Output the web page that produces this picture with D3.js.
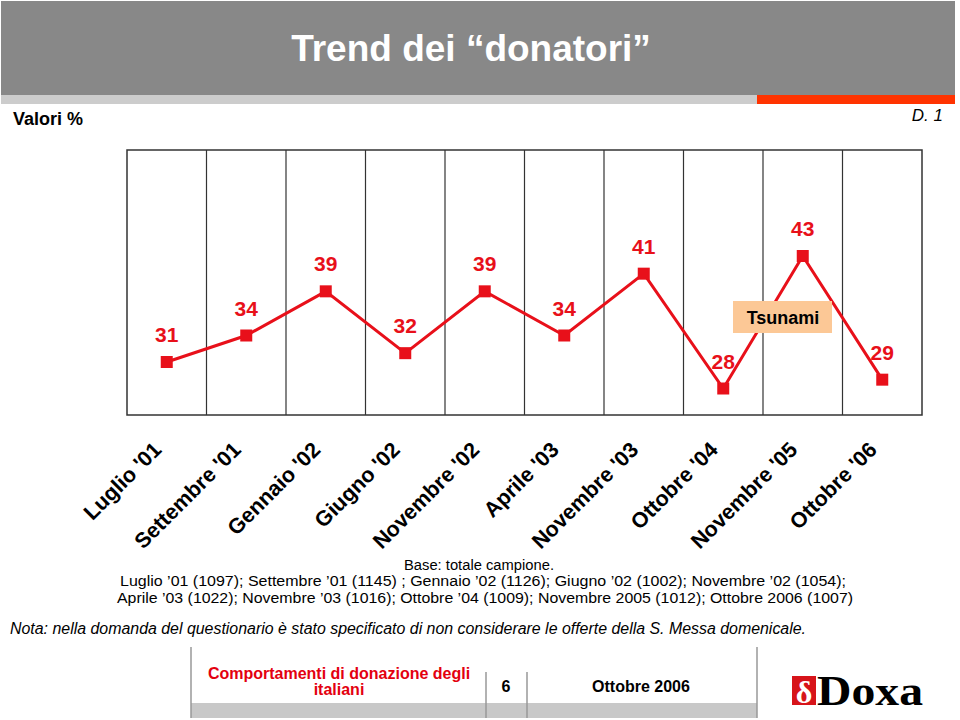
<!DOCTYPE html>
<html><head><meta charset="utf-8">
<script src="https://cdn.jsdelivr.net/npm/d3@7"></script>
<style>html,body{margin:0;padding:0;background:#fff}svg{display:block}</style>
</head><body>
<script>
const categories = ["Luglio '01","Settembre '01","Gennaio '02","Giugno '02","Novembre '02","Aprile '03","Novembre '03","Ottobre '04","Novembre '05","Ottobre '06"];
const values = [31,34,39,32,39,34,41,28,43,29];
const tickLabels = categories;
const annotation = {text:"Tsunami", between:[7,8]};
const baseLines = ["Base: totale campione.",
 "Luglio \u201901 (1097); Settembre \u201901 (1145) ; Gennaio \u201902 (1126); Giugno \u201902 (1002); Novembre \u201902 (1054);",
 "Aprile \u201903 (1022); Novembre \u201903 (1016); Ottobre \u201904 (1009); Novembre 2005 (1012); Ottobre 2006 (1007)"];
const notaText = "Nota: nella domanda del questionario \u00e8 stato specificato di non considerare le offerte della S. Messa domenicale.";

const W=960,H=720;
const svg=d3.select("body").append("svg").attr("width",W).attr("height",H);
const FONT="Arial, 'Liberation Sans', Helvetica, sans-serif";
const RED="#e8101a";

// header
svg.append("rect").attr("x",1).attr("y",1).attr("width",954).attr("height",94).attr("fill","#888888");
svg.append("rect").attr("x",1).attr("y",95).attr("width",756).attr("height",9).attr("fill","#cccccc");
svg.append("rect").attr("x",757).attr("y",95).attr("width",198).attr("height",9).attr("fill","#ff3300");
svg.append("text").attr("x",471).attr("y",61).attr("text-anchor","middle")
  .attr("font-family",FONT).attr("font-weight","bold").attr("font-size",37).attr("fill","#fff")
  .text("Trend dei \u201cdonatori\u201d");
svg.append("text").attr("x",13).attr("y",125).attr("font-family",FONT).attr("font-weight","bold")
  .attr("font-size",18).attr("fill","#000").text("Valori %");
svg.append("text").attr("x",943).attr("y",121).attr("text-anchor","end").attr("font-family",FONT)
  .attr("font-style","italic").attr("font-size",17).attr("fill","#000").text("D. 1");

// chart
const x=d3.scaleBand().domain(categories).range([127,922]).paddingInner(0).paddingOuter(0);
const y=d3.scaleLinear().domain([25,55]).range([415,150]);
const cx=c=>x(c)+x.bandwidth()/2;
const g=svg.append("g");
g.append("rect").attr("x",127).attr("y",150).attr("width",795).attr("height",265)
  .attr("fill","#fff").attr("stroke","#333").attr("stroke-width",1.5);
g.selectAll("line.grid").data(categories.slice(1)).join("line").attr("class","grid")
  .attr("x1",d=>x(d)).attr("x2",d=>x(d)).attr("y1",150).attr("y2",415)
  .attr("stroke","#333").attr("stroke-width",1.2);

const data=categories.map((c,i)=>({c,v:values[i]}));
g.append("path").datum(data).attr("fill","none").attr("stroke",RED).attr("stroke-width",3)
  .attr("stroke-linejoin","miter")
  .attr("d",d3.line().x(d=>cx(d.c)).y(d=>y(d.v)));

// annotation box
const a0=cx(categories[annotation.between[0]]), a1=cx(categories[annotation.between[1]]);
const am=(a0+a1)/2+20;
g.append("rect").attr("x",am-50).attr("y",301).attr("width",99).attr("height",32).attr("fill","#fcc896");
g.append("text").attr("x",am).attr("y",324).attr("text-anchor","middle").attr("font-family",FONT)
  .attr("font-weight","bold").attr("font-size",18).attr("fill","#000").text(annotation.text);

g.selectAll("rect.m").data(data).join("rect").attr("class","m")
  .attr("x",d=>cx(d.c)-6).attr("y",d=>y(d.v)-6).attr("width",12).attr("height",12).attr("fill",RED);
g.selectAll("text.lbl").data(data).join("text").attr("class","lbl")
  .attr("x",d=>cx(d.c)).attr("y",d=>y(d.v)-20).attr("text-anchor","middle")
  .attr("font-family",FONT).attr("font-weight","bold").attr("font-size",21).attr("fill",RED)
  .text(d=>d.v);

// x labels
g.selectAll("text.xl").data(categories).join("text").attr("class","xl")
  .attr("transform",(d,i)=>`translate(${cx(d)-4},451) rotate(-45)`)
  .attr("text-anchor","end").attr("font-family",FONT).attr("font-weight","bold")
  .attr("font-size",21.5).attr("fill","#000").text((d,i)=>tickLabels[i]);

// base text
const bw=[150,726,736];
const by=[569.5,586,602.5];
const bx=[479,483,485];
baseLines.forEach((t,i)=>{
  svg.append("text").attr("x",bx[i]).attr("y",by[i]).attr("text-anchor","middle")
   .attr("font-family",FONT).attr("font-size",14).attr("fill","#000")
   .attr("textLength",bw[i]).attr("lengthAdjust","spacingAndGlyphs").text(t);
});
svg.append("text").attr("x",10).attr("y",634).attr("font-family",FONT).attr("font-style","italic")
  .attr("font-size",16).attr("fill","#000").attr("textLength",796).attr("lengthAdjust","spacingAndGlyphs")
  .text(notaText);

// footer
const f=svg.append("g");
f.append("rect").attr("x",191).attr("y",703).attr("width",566).attr("height",15).attr("fill","#c8c8c8");
[[191,647],[757,647],[486,672],[527,672]].forEach(([lx,ly])=>{
  f.append("line").attr("x1",lx).attr("x2",lx).attr("y1",ly).attr("y2",718).attr("stroke","#999").attr("stroke-width",1.5);
});
f.append("text").attr("x",339).attr("y",679).attr("text-anchor","middle").attr("font-family",FONT)
  .attr("font-weight","bold").attr("font-size",16).attr("fill","#e3000f").text("Comportamenti di donazione degli");
f.append("text").attr("x",339).attr("y",695).attr("text-anchor","middle").attr("font-family",FONT)
  .attr("font-weight","bold").attr("font-size",16).attr("fill","#e3000f").text("italiani");
f.append("text").attr("x",506).attr("y",692).attr("text-anchor","middle").attr("font-family",FONT)
  .attr("font-weight","bold").attr("font-size",16).attr("fill","#000").text("6");
f.append("text").attr("x",641).attr("y",692).attr("text-anchor","middle").attr("font-family",FONT)
  .attr("font-weight","bold").attr("font-size",16).attr("fill","#000").text("Ottobre 2006");
// logo
f.append("rect").attr("x",792).attr("y",676).attr("width",24).attr("height",29).attr("fill","#d7141a");
f.append("text").attr("x",804).attr("y",703).attr("text-anchor","middle").attr("font-family","'Liberation Serif','DejaVu Serif',serif")
  .attr("font-weight","bold").attr("font-size",32).attr("fill","#fff").text("\u03b4");
f.append("text").attr("x",817).attr("y",705).attr("font-family","'Liberation Serif','DejaVu Serif',serif")
  .attr("font-weight","bold").attr("font-size",42).attr("fill","#000")
  .attr("textLength",106).attr("lengthAdjust","spacingAndGlyphs").text("Doxa");
</script>
</body></html>
